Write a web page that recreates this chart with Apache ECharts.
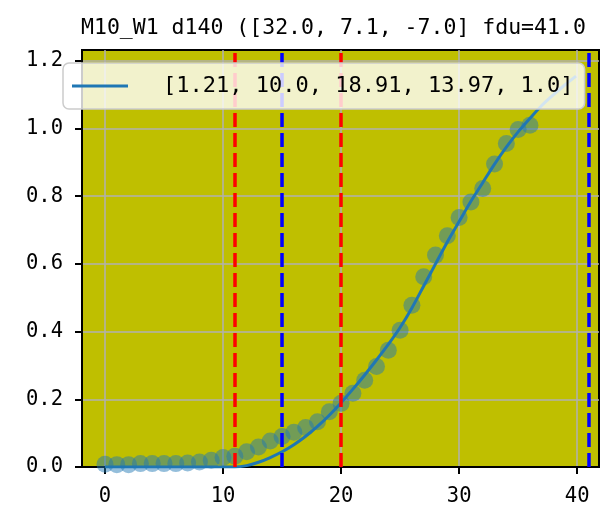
<!DOCTYPE html>
<html>
<head>
<meta charset="utf-8">
<script src="https://cdn.jsdelivr.net/npm/echarts@6/dist/echarts.min.js"></script>
<style>
  html, body { margin: 0; padding: 0; background: #ffffff; }
  #chart { width: 603px; height: 517px; }
</style>
</head>
<body>
<div id="chart"></div>
<script>
// ---- data ----
const titleText = "M10_W1 d140 ([32.0, 7.1, -7.0] fdu=41.0";
const legendName = "[1.21, 10.0, 18.91, 13.97, 1.0]";

const dotX = [0,1,2,3,4,5,6,7,8,9,10,11,12,13,14,15,16,17,18,19,20,21,22,23,24,25,26,27,28,29,30,31,32,33,34,35,36];
const dotY = [0.008,0.007,0.007,0.010,0.010,0.010,0.010,0.012,0.015,0.020,0.028,0.032,0.045,0.059,0.077,0.090,0.103,0.117,0.134,0.163,0.188,0.218,0.256,0.297,0.345,0.404,0.478,0.562,0.626,0.683,0.737,0.783,0.823,0.895,0.956,0.997,1.010];

const fitX = [0,2,4,6,8,10,11,12,13,14,15,16,17,18,19,20,21,22,23,24,25,26,27,28,29,30,31,32,33,34,35,36,37,38,39,39.9];
const fitY = [0,0,0,0,0,0,0,0.004,0.014,0.028,0.045,0.066,0.091,0.120,0.153,0.190,0.230,0.272,0.316,0.362,0.412,0.470,0.535,0.600,0.665,0.725,0.785,0.840,0.895,0.945,0.990,1.030,1.068,1.100,1.130,1.155];

const vlineX = [11, 15, 20, 41];
const vlineColor = ['#ff0000', '#0000ff', '#ff0000', '#0000ff'];

const xTicks = [0, 10, 20, 30, 40];
const yTicks = [0, 0.2, 0.4, 0.6, 0.8, 1.0, 1.2];

// ---- chart ----
const chart = echarts.init(document.getElementById('chart'), null, {renderer: 'canvas'});
const monoFont = 'DejaVu Sans Mono';

const option = {
  animation: false,
  backgroundColor: '#ffffff',
  title: {
    text: titleText,
    left: 81,
    top: 17,
    padding: 0,
    textStyle: { fontFamily: monoFont, fontSize: 21.5, fontWeight: 'normal', color: '#000000' }
  },
  legend: {
    data: [{ name: legendName, icon: 'rect' }],
    left: 63,
    top: 63,
    z: 20,
    orient: 'horizontal',
    itemWidth: 56,
    itemHeight: 3,
    padding: [12, 11, 12, 9],
    backgroundColor: 'rgba(255,255,255,0.8)',
    borderColor: '#cccccc',
    borderWidth: 1.5,
    borderRadius: 6,
    textStyle: { fontFamily: monoFont, fontSize: 22, color: '#000000', padding: [0, 0, 0, 30] }
  },
  grid: {
    left: 82, right: 4, top: 50, bottom: 50,
    show: true,
    backgroundColor: '#bfbf00',
    borderColor: '#000000',
    borderWidth: 2,
    containLabel: false
  },
  xAxis: {
    type: 'value',
    min: -1.95,
    max: 41.85,
    axisLine: { show: true, onZero: false, lineStyle: { color: '#000000', width: 2 } },
    axisTick: { show: true, customValues: xTicks, length: 7, lineStyle: { color: '#000000', width: 2 } },
    axisLabel: { customValues: xTicks, margin: 19, fontFamily: monoFont, fontSize: 20.5, color: '#000000' },
    splitLine: { show: true, lineStyle: { color: '#b0b0b0', width: 1.5 } }
  },
  yAxis: {
    type: 'value',
    min: 0,
    max: 1.232,
    axisLine: { show: true, onZero: false, lineStyle: { color: '#000000', width: 2 } },
    axisTick: { show: true, customValues: yTicks, length: 7, lineStyle: { color: '#000000', width: 2 } },
    axisLabel: { customValues: yTicks, margin: 19, fontFamily: monoFont, fontSize: 20.5, color: '#000000',
                 formatter: v => v.toFixed(1) },
    splitLine: { show: true, lineStyle: { color: '#b0b0b0', width: 1.5 } }
  },
  series: [
    {
      name: legendName,
      type: 'line',
      data: fitX.map((x, i) => [x, fitY[i]]),
      smooth: 0.3,
      showSymbol: false,
      symbol: 'none',
      clip: true,
      z: 3,
      lineStyle: { color: '#1f77b4', width: 3 },
      itemStyle: { color: '#1f77b4' }
    },
    {
      name: 'points',
      type: 'scatter',
      data: dotX.map((x, i) => [x, dotY[i]]),
      symbolSize: 17,
      clip: true,
      z: 4,
      itemStyle: { color: 'rgba(31,119,180,0.6)' }
    },
    {
      name: 'vlines',
      type: 'line',
      data: [],
      z: 5,
      markLine: {
        silent: true,
        symbol: ['none', 'none'],
        label: { show: false },
        animation: false,
        data: vlineX.map((x, i) => ({
          xAxis: x,
          lineStyle: { color: vlineColor[i], width: 3.5, type: [14, 6] }
        }))
      }
    }
  ]
};
chart.setOption(option);
</script>
</body>
</html>
